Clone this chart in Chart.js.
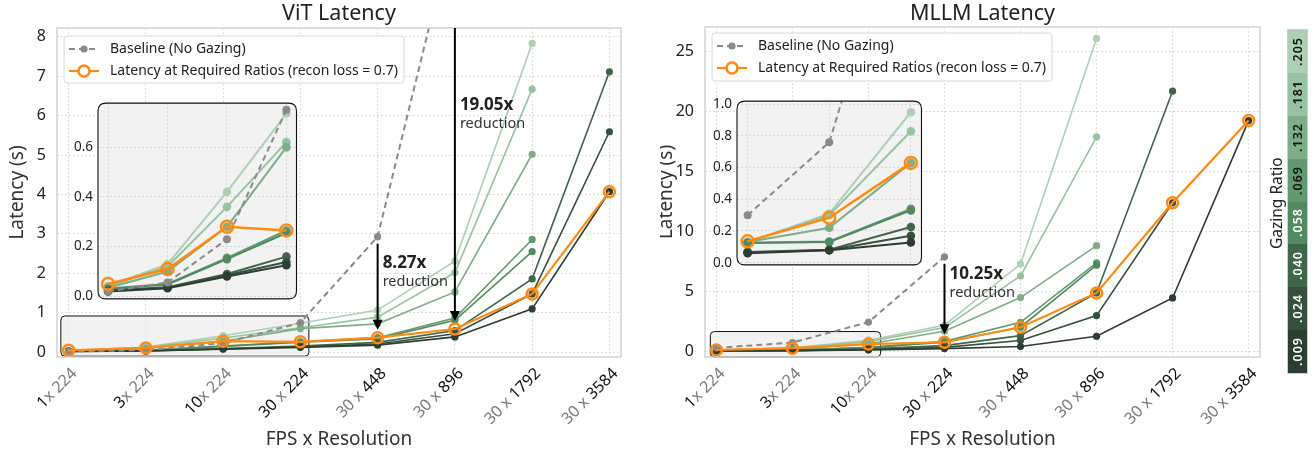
<!DOCTYPE html>
<html><head><meta charset="utf-8">
<script src="https://cdn.jsdelivr.net/npm/chart.js@4.4.1/dist/chart.umd.min.js"></script>
<style>
html,body{margin:0;padding:0;background:#fff;}
body{width:1315px;height:456px;overflow:hidden;position:relative;font-family:'Noto Sans',sans-serif;}
canvas{position:absolute;}
#cbar{position:absolute;left:1288px;top:30px;width:19px;height:343px;display:flex;flex-direction:column-reverse;outline:1px solid #cfcfcf;}
#cbar div{flex:1;display:flex;align-items:center;justify-content:center;overflow:hidden;}
#cbar span{writing-mode:vertical-rl;transform:rotate(180deg);font-size:12.5px;font-weight:600;letter-spacing:1px;white-space:nowrap;}
#cbarLabel{position:absolute;left:1265px;top:130px;width:22px;height:146px;writing-mode:vertical-rl;transform:rotate(180deg);font-size:15.5px;line-height:22px;color:#222;text-align:center;white-space:nowrap;}
</style></head><body>
<canvas id="vit" width="660" height="456" style="left:0;top:0;width:660px;height:456px"></canvas>
<canvas id="mllm" width="640" height="456" style="left:660px;top:0;width:640px;height:456px"></canvas>
<canvas id="vitIn" width="245" height="222" style="left:60px;top:90px;width:245px;height:222px"></canvas>
<canvas id="mllmIn" width="230" height="190" style="left:700px;top:88px;width:230px;height:190px"></canvas>
<div id="cbarLabel">Gazing Ratio</div>
<div id="cbar"></div>
<script>
// ---------- data ----------
const categories = ['1x224','3x224','10x224','30x224','30x448','30x896','30x1792','30x3584'];
const fpsLabels  = ['1','3','10','30','30','30','30','30'];
const resLabels  = ['224','224','224','224','448','896','1792','3584'];
const ratioLabels = ['.009','.024','.040','.058','.069','.132','.181','.205'];

// ViT latency (s), one array per gazing ratio
const vit_r009 = [0.020,0.033,0.080,0.125,0.18,0.39,1.10,4.07];
const vit_r024 = [0.022,0.035,0.085,0.138,0.21,0.47,1.48,5.59];
const vit_r040 = [0.025,0.037,0.090,0.160,0.25,0.55,1.86,7.11];
const vit_r058 = [0.030,0.048,0.150,0.255,0.34,0.81,2.55,null];
const vit_r069 = [0.032,0.050,0.155,0.265,0.37,0.87,2.86,null];
const vit_r132 = [0.035,0.100,0.280,0.600,0.72,1.53,5.02,null];
const vit_r181 = [0.040,0.120,0.360,0.620,0.89,2.02,6.67,null];
const vit_r205 = [0.042,0.130,0.420,0.735,1.07,2.31,7.83,null];
const vit_required = [0.050,0.110,0.280,0.265,0.37,0.59,1.48,4.07];
const vit_baseline = [0.020,0.056,0.230,0.750,2.93,10.9,null,null];

// MLLM latency (s)
const mllm_r009 = [0.060,0.078,0.128,0.25,0.42,1.28,4.47,19.25];
const mllm_r024 = [0.064,0.080,0.170,0.35,0.92,3.00,12.4,null];
const mllm_r040 = [0.068,0.082,0.225,0.50,1.33,4.89,21.7,null];
const mllm_r058 = [0.125,0.130,0.330,0.78,2.03,7.20,null,null];
const mllm_r069 = [0.126,0.134,0.340,0.85,2.44,7.39,null,null];
const mllm_r132 = [0.130,0.220,0.630,1.70,4.50,8.83,null,null];
const mllm_r181 = [0.130,0.300,0.830,2.00,6.30,17.9,null,null];
const mllm_r205 = [0.130,0.310,0.950,2.20,7.30,26.1,null,null];
const mllm_required = [0.135,0.284,0.630,0.78,2.03,4.89,12.4,19.25];
const mllm_baseline = [0.30,0.76,2.45,7.90,null,null,null,null];

const vitYTicks = [0,1,2,3,4,5,6,7,8];
const mllmYTicks = [0,5,10,15,20,25];
const vitInsetYTicks = [0,0.2,0.4,0.6];
const mllmInsetYTicks = [0,0.2,0.4,0.6,0.8,1.0];
const vitReductions = [{cat:4, label:'8.27x'},{cat:5, label:'19.05x'}];
const mllmReductions = [{cat:3, label:'10.25x'}];

// ---------- style ----------
const FONT = "'Noto Sans', sans-serif";
const ratioColors = ['#2c3d31','#35503d','#416549','#528a5f','#62996e','#7dae88','#98c3a1','#add0b5'];
const ORANGE = '#ff8a12';
const GRAY = '#8a8a8a';
const DARK = '#111';
const LIGHT = '#7a7a7a';
const fpsDark = [true,true,true,true,false,false,false,false];
const resDark = [false,false,false,true,true,true,true,true];

const vitSeries = [vit_r009,vit_r024,vit_r040,vit_r058,vit_r069,vit_r132,vit_r181,vit_r205];
const mllmSeries = [mllm_r009,mllm_r024,mllm_r040,mllm_r058,mllm_r069,mllm_r132,mllm_r181,mllm_r205];

function xy(arr, n){ const out=[]; arr.forEach((v,i)=>{ if(n===undefined||i<n) out.push({x:i,y:v}); }); return out; }

function buildDatasets(series, required, baseline, inset, n){
  const ds = [];
  ds.push({label:'Latency at Required Ratios (recon loss = 0.7)', data:xy(required,n), borderColor:ORANGE,
    pointBorderColor:ORANGE, pointBackgroundColor:'rgba(0,0,0,0)', pointRadius: inset?6:5.5, pointBorderWidth:2.5,
    borderWidth: inset?2.5:2.2, order:0});
  ds.push({label:'Baseline (No Gazing)', data:xy(baseline,n), borderColor:GRAY, backgroundColor:GRAY,
    pointBackgroundColor:GRAY, pointBorderWidth:0, pointRadius: inset?4:3.6, borderWidth: 2, borderDash:[6,4], order:1});
  series.forEach((s,k)=>{
    ds.push({label:ratioLabels[k], data:xy(s,n), borderColor:ratioColors[k], backgroundColor:ratioColors[k],
      pointBackgroundColor:ratioColors[k], pointBorderWidth:0, pointRadius: inset?4.3:3.6,
      borderWidth: inset?2:1.6, order:2+k});
  });
  return ds;
}

function rr(ctx,x,y,w,h,r){ ctx.beginPath(); ctx.moveTo(x+r,y); ctx.lineTo(x+w-r,y); ctx.quadraticCurveTo(x+w,y,x+w,y+r);
  ctx.lineTo(x+w,y+h-r); ctx.quadraticCurveTo(x+w,y+h,x+w-r,y+h); ctx.lineTo(x+r,y+h); ctx.quadraticCurveTo(x,y+h,x,y+h-r);
  ctx.lineTo(x,y+r); ctx.quadraticCurveTo(x,y,x+r,y); ctx.closePath(); }

function arrow(ctx, x, y1, y2){
  ctx.save(); ctx.strokeStyle='#000'; ctx.fillStyle='#000'; ctx.lineWidth=2;
  ctx.beginPath(); ctx.moveTo(x,y1); ctx.lineTo(x,y2-8); ctx.stroke();
  ctx.beginPath(); ctx.moveTo(x,y2); ctx.lineTo(x-5,y2-10); ctx.lineTo(x+5,y2-10); ctx.closePath(); ctx.fill();
  ctx.restore();
}

function mainPlugin(cfg){
  return {
    id:'deco',
    beforeDatasetsDraw(chart){
      const {ctx, chartArea:a, scales:{x,y}} = chart;
      ctx.save();
      const bx1=x.getPixelForValue(cfg.box[0]), bx2=x.getPixelForValue(cfg.box[1]);
      const by1=y.getPixelForValue(cfg.box[3]), by2=Math.min(y.getPixelForValue(cfg.box[2]), a.bottom);
      rr(ctx,bx1,by1,bx2-bx1,by2-by1,4);
      ctx.fillStyle='rgba(238,238,238,0.75)'; ctx.fill();
      ctx.lineWidth=1; ctx.strokeStyle='#111'; ctx.stroke();
      ctx.restore();
    },
    afterDatasetsDraw(chart){
      const {ctx, chartArea:a, scales:{x,y}} = chart;
      ctx.save(); ctx.strokeStyle='#d2d2d2'; ctx.lineWidth=1.5; ctx.strokeRect(a.left,a.top,a.width,a.height); ctx.restore();
      cfg.reductions.forEach(r=>{
        const px = x.getPixelForValue(r.cat);
        const bv = cfg.baseline[r.cat];
        const top = (bv!==null && bv < y.max) ? y.getPixelForValue(bv)+7 : a.top;
        const tip = y.getPixelForValue(cfg.required[r.cat]) - 8;
        arrow(ctx, px, top, tip);
        const ty = (bv < y.max) ? top + cfg.labelDy : a.top + 77;
        ctx.save(); ctx.fillStyle='#222'; ctx.textAlign='left'; ctx.textBaseline='middle';
        ctx.font='bold 17px '+FONT; ctx.fillText(r.label, px+5, ty);
        ctx.font='14.5px '+FONT; ctx.fillStyle='#333'; ctx.fillText('reduction', px+5, ty+19);
        ctx.restore();
      });
    },
    afterDraw(chart){
      const {ctx, chartArea:a, scales:{x}} = chart;
      ctx.save();
      ctx.fillStyle='#222'; ctx.textAlign='center'; ctx.textBaseline='middle';
      ctx.font='21.5px '+FONT; ctx.fillText(cfg.title, (a.left+a.right)/2, 14);
      ctx.font='19px '+FONT; ctx.fillStyle='#333';
      ctx.fillText('FPS x Resolution', (a.left+a.right)/2, 440);
      ctx.save(); ctx.translate(cfg.yTitleX, (a.top+a.bottom)/2); ctx.rotate(-Math.PI/2);
      ctx.fillText('Latency (s)', 0, 0); ctx.restore();
      ctx.font='16px '+FONT; ctx.textAlign='left'; ctx.textBaseline='middle';
      categories.forEach((c,i)=>{
        const sep = i<3 ? 'x ' : ' x ';
        const segs = [[fpsLabels[i], fpsDark[i]?DARK:LIGHT],[sep, LIGHT],[resLabels[i], resDark[i]?DARK:LIGHT]];
        const total = segs.reduce((s,g)=>s+ctx.measureText(g[0]).width,0);
        const px = x.getPixelForValue(i);
        ctx.save(); ctx.translate(px+6, a.bottom+14); ctx.rotate(-Math.PI/4);
        let cx=-total; segs.forEach(g=>{ ctx.fillStyle=g[1]; ctx.fillText(g[0],cx,0); cx+=ctx.measureText(g[0]).width; });
        ctx.restore();
      });
      const L = cfg.legend;
      rr(ctx, L.x, L.y, L.w, L.h, 3);
      ctx.fillStyle='rgba(255,255,255,0.9)'; ctx.fill(); ctx.strokeStyle='#d8d8d8'; ctx.lineWidth=1; ctx.stroke();
      const hx = L.x+5, r1 = L.y+13, r2 = L.y+35;
      ctx.strokeStyle=GRAY; ctx.lineWidth=2; ctx.setLineDash([6,4]);
      ctx.beginPath(); ctx.moveTo(hx,r1); ctx.lineTo(hx+30,r1); ctx.stroke(); ctx.setLineDash([]);
      ctx.fillStyle=GRAY; ctx.beginPath(); ctx.arc(hx+15,r1,3.6,0,Math.PI*2); ctx.fill();
      ctx.strokeStyle=ORANGE; ctx.lineWidth=2.2;
      ctx.beginPath(); ctx.moveTo(hx,r2); ctx.lineTo(hx+30,r2); ctx.stroke();
      ctx.fillStyle='#fff'; ctx.lineWidth=2.5; ctx.beginPath(); ctx.arc(hx+15,r2,5.5,0,Math.PI*2); ctx.fill(); ctx.stroke();
      ctx.fillStyle='#222'; ctx.font='14px '+FONT; ctx.textAlign='left'; ctx.textBaseline='middle';
      ctx.fillText('Baseline (No Gazing)', L.x+46, r1);
      ctx.fillText('Latency at Required Ratios (recon loss = 0.7)', L.x+46, r2);
      ctx.restore();
    }
  };
}

function makeMain(id, cfg){
  return new Chart(document.getElementById(id), {
    type:'line',
    data:{datasets: buildDatasets(cfg.series, cfg.required, cfg.baseline, false)},
    options:{
      responsive:false, animation:false, events:[], devicePixelRatio:1,
      layout:{padding:{left:0,right:cfg.padRight,top:cfg.padTop,bottom:0}},
      plugins:{legend:{display:false}, tooltip:{enabled:false}},
      scales:{
        x:{type:'linear', min:-0.15, max:7.15,
          afterBuildTicks:s=>{ s.ticks = categories.map((c,i)=>({value:i})); },
          afterFit:s=>{ s.height = 456-357; },
          ticks:{display:false}, grid:{color:'#dcdcdc', lineWidth:1, drawTicks:false},
          border:{display:false, dash:[2,2]}},
        y:{type:'linear', min:cfg.ymin, max:cfg.ymax,
          afterBuildTicks:s=>{ s.ticks = cfg.yTicks.map(v=>({value:v})); },
          afterFit:s=>{ s.width = cfg.yWidth; },
          ticks:{padding:11, color:'#222', font:{family:FONT,size:16}, callback:v=>String(v)},
          grid:{color:'#dcdcdc', lineWidth:1, drawTicks:false},
          border:{display:false, dash:[2,2]}}
      }
    },
    plugins:[mainPlugin(cfg)]
  });
}

function insetPlugin(){
  return {
    id:'insetbox',
    beforeDraw(chart){
      const {ctx, chartArea:a} = chart; ctx.save();
      rr(ctx,a.left,a.top,a.width,a.height,8); ctx.fillStyle='#f2f2f2'; ctx.fill(); ctx.restore();
    },
    beforeDatasetsDraw(chart){
      const {ctx, chartArea:a} = chart; ctx.save(); rr(ctx,a.left,a.top,a.width,a.height,8); ctx.clip();
    },
    afterDatasetsDraw(chart){
      const {ctx, chartArea:a} = chart; ctx.restore(); ctx.save();
      rr(ctx,a.left,a.top,a.width,a.height,8); ctx.strokeStyle='#111'; ctx.lineWidth=1.1; ctx.stroke(); ctx.restore();
    }
  };
}

function makeInset(id, cfg){
  return new Chart(document.getElementById(id), {
    type:'line',
    data:{datasets: buildDatasets(cfg.series, cfg.required, cfg.baseline, true, cfg.n)},
    options:{
      responsive:false, animation:false, events:[], devicePixelRatio:1,
      layout:{padding:{left:0,right:cfg.padRight,top:cfg.padTop,bottom:0}},
      plugins:{legend:{display:false}, tooltip:{enabled:false}},
      scales:{
        x:{type:'linear', min:cfg.xmin, max:cfg.xmax,
          afterBuildTicks:s=>{ s.ticks = categories.slice(0,cfg.n).map((c,i)=>({value:i})); },
          afterFit:s=>{ s.height = cfg.padBottom; },
          ticks:{display:false}, grid:{color:'#d6d6d6', lineWidth:1, drawTicks:false},
          border:{display:false, dash:[2,2]}},
        y:{type:'linear', min:cfg.ymin, max:cfg.ymax,
          afterBuildTicks:s=>{ s.ticks = cfg.yTicks.map(v=>({value:v})); },
          afterFit:s=>{ s.width = cfg.yWidth; },
          ticks:{padding:5, color:'#222', font:{family:FONT,size:13.5}, callback:v=>Number(v).toFixed(1)},
          grid:{color:'#d6d6d6', lineWidth:1, drawTicks:false},
          border:{display:false, dash:[2,2]}}
      }
    },
    plugins:[insetPlugin()]
  });
}

makeMain('vit', {title:'ViT Latency', series:vitSeries, required:vit_required, baseline:vit_baseline,
  ymin:-0.12, ymax:8.22, yTicks:vitYTicks, yWidth:57, padRight:39, padTop:28, yTitleX:18,
  box:[-0.1,3.11,-0.1,0.92], reductions:vitReductions, labelDy:19,
  legend:{x:64,y:36,w:340,h:47}});
makeMain('mllm', {title:'MLLM Latency', series:mllmSeries, required:mllm_required, baseline:mllm_baseline,
  ymin:-0.45, ymax:27.05, yTicks:mllmYTicks, yWidth:45, padRight:40, padTop:27, yTitleX:7,
  box:[-0.08,2.16,-0.45,1.67], reductions:mllmReductions, labelDy:10,
  legend:{x:52,y:33,w:340,h:48}});
makeInset('vitIn', {series:vitSeries, required:vit_required, baseline:vit_baseline, n:4,
  xmin:-0.17, xmax:3.17, ymin:-0.01, ymax:0.777, yTicks:vitInsetYTicks, yWidth:38, padRight:6, padTop:6, padBottom:6});
makeInset('mllmIn', {series:mllmSeries, required:mllm_required, baseline:mllm_baseline, n:3,
  xmin:-0.13, xmax:2.13, ymin:-0.014, ymax:1.02, yTicks:mllmInsetYTicks, yWidth:37, padRight:7, padTop:6, padBottom:6});

// colour bar
const cbar = document.getElementById('cbar');
ratioLabels.forEach((r,k)=>{
  const d=document.createElement('div'); d.style.background=ratioColors[k];
  const s=document.createElement('span'); s.textContent=r; s.style.color = k<4 ? '#fff' : '#111';
  d.appendChild(s); cbar.appendChild(d);
});
</script>
</body></html>
